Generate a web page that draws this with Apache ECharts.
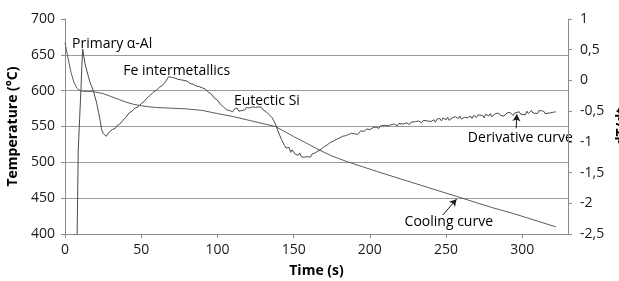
<!DOCTYPE html>
<html>
<head>
<meta charset="utf-8">
<script src="https://cdn.jsdelivr.net/npm/echarts@6/dist/echarts.min.js"></script>
<style>
  html, body { margin: 0; padding: 0; background: #fff; }
  #chart { width: 619px; height: 281px; }
</style>
</head>
<body>
<div id="chart"></div>
<script>
// cooling curve: [time s, temperature °C]
var coolingCurve = [
    [0, 667], [2, 645], [4, 625], [6, 611], [8, 603], [10, 600], [12, 599], [15, 599],
    [18, 599], [20, 598], [25, 596], [30, 592], [35, 588], [40, 584], [45, 581], [50, 579],
    [55, 577.5], [60, 576.5], [70, 575.5], [80, 574.5], [90, 572.5], [100, 568], [110, 564],
    [120, 559], [130, 554], [138, 550], [145, 542], [150, 536], [160, 525], [167, 517],
    [175, 509], [185, 501], [195, 494], [205, 487], [220, 477], [235, 467], [250, 457],
    [257, 452.5], [265, 447], [280, 437], [295, 428], [310, 418], [322, 410]
];

// derivative curve: [time s, dT/dt]
var derivativeCurve = [
    [7.9, -2.6], [8.7, -1.13], [9.6, -0.62], [10.5, -0.12], [11.1, 0.25], [11.6, 0.51],
    [12.3, 0.40], [13.1, 0.28], [14.2, 0.17], [15.3, 0.07], [16.4, -0.03], [17.4, -0.09],
    [18.6, -0.17], [19.7, -0.27], [20.8, -0.37], [22, -0.52], [23, -0.64], [24, -0.80],
    [25, -0.86],
    [26, -0.85], [27, -0.91], [28, -0.88], [29, -0.84], [30, -0.86], [31, -0.80], [32, -0.83],
    [33, -0.78], [34, -0.74], [35, -0.77], [36, -0.71], [37, -0.73], [38, -0.65], [39, -0.66],
    [40, -0.60], [41, -0.62], [42, -0.53], [43, -0.55], [44, -0.50], [45, -0.51], [46, -0.45],
    [47, -0.48], [48, -0.43], [49, -0.44], [50, -0.38], [51, -0.40], [52, -0.34], [53, -0.35],
    [54, -0.28], [55, -0.30], [56, -0.24], [57, -0.26], [58, -0.19], [59, -0.21], [60, -0.16],
    [61, -0.18], [62, -0.11], [63, -0.13], [64, -0.08], [65, -0.09], [66, -0.02], [67, 0.01],
    [68, 0.06], [69, 0.04], [70, 0.05], [71, 0.02], [72, 0.04], [73, 0.01], [74, 0.02],
    [75, -0.01], [76, 0.01], [77, -0.02], [78, 0.00], [79, -0.03], [80, -0.01], [81, -0.04],
    [82, -0.05], [83, -0.03], [84, -0.06], [85, -0.05], [86, -0.09], [87, -0.07], [88, -0.10],
    [90, -0.12], [92, -0.14], [94, -0.19], [96, -0.22], [98, -0.29], [100, -0.32], [102, -0.39],
    [104, -0.43], [106, -0.48], [107, -0.46], [108, -0.49], [109, -0.47], [110, -0.51],
    [111, -0.47], [112, -0.48], [113, -0.45], [114, -0.50], [115, -0.47], [116, -0.49],
    [117, -0.46], [118, -0.48], [119, -0.44], [120, -0.47], [121, -0.45], [122, -0.48],
    [123, -0.43], [124, -0.46], [125, -0.44], [126, -0.47], [127, -0.43], [128, -0.45],
    [129, -0.44], [130, -0.48], [132, -0.51], [134, -0.56], [136, -0.61], [138, -0.71],
    [140, -0.84], [142, -0.96], [144, -1.06], [145, -1.10], [146, -1.12], [147, -1.09],
    [148, -1.17], [149, -1.13], [150, -1.16], [151, -1.20], [152, -1.17], [153, -1.22],
    [154, -1.18], [155, -1.24], [156, -1.21], [157, -1.25], [158, -1.22], [159, -1.24],
    [160, -1.21], [161, -1.25], [162, -1.20], [163, -1.22], [164, -1.18], [165, -1.20],
    [166, -1.15], [167, -1.16], [168, -1.12], [169, -1.13], [170, -1.08], [171, -1.10],
    [172, -1.05], [173, -1.07], [174, -1.01], [175, -1.04], [176, -0.99], [177, -1.01],
    [178, -0.96], [179, -0.98], [180, -0.94], [181, -0.96], [182, -0.91], [183, -0.94],
    [184, -0.90], [186, -0.88], [187, -0.91], [188, -0.86], [190, -0.87], [191, -0.84],
    [192, -0.88], [194, -0.82], [195, -0.85], [196, -0.83], [198, -0.79], [199, -0.82],
    [200, -0.80], [202, -0.77], [203, -0.80], [204, -0.76], [206, -0.78], [207, -0.74],
    [208, -0.77], [210, -0.73], [211, -0.76], [212, -0.74], [214, -0.72], [215, -0.75],
    [216, -0.71], [218, -0.74], [219, -0.70], [220, -0.73], [222, -0.71], [223, -0.74],
    [224, -0.69], [226, -0.72], [227, -0.68], [228, -0.71], [230, -0.67], [231, -0.70],
    [232, -0.66], [234, -0.69], [235, -0.65], [236, -0.68], [238, -0.66], [239, -0.63],
    [240, -0.67], [242, -0.64], [243, -0.68], [244, -0.63], [246, -0.62], [247, -0.66],
    [248, -0.61], [250, -0.64], [251, -0.60], [252, -0.65], [254, -0.61], [255, -0.63],
    [256, -0.59], [258, -0.62], [259, -0.58], [260, -0.63], [262, -0.60], [263, -0.57],
    [264, -0.61], [266, -0.58], [267, -0.62], [268, -0.57], [270, -0.60], [271, -0.56],
    [272, -0.59], [274, -0.57], [275, -0.61], [276, -0.55], [278, -0.58], [279, -0.54],
    [280, -0.59], [282, -0.55], [283, -0.58], [284, -0.53], [286, -0.57], [287, -0.54],
    [288, -0.58], [290, -0.53], [291, -0.56], [292, -0.52], [294, -0.57], [295, -0.53],
    [296, -0.56], [298, -0.51], [299, -0.55], [300, -0.52], [302, -0.56], [303, -0.50],
    [304, -0.54], [306, -0.49], [307, -0.53], [308, -0.50], [310, -0.54], [311, -0.49],
    [312, -0.52], [314, -0.50], [315, -0.54], [316, -0.51], [318, -0.53], [319, -0.50],
    [320, -0.52], [322, -0.51]
];

// axis ranges
var timeRange = [0, 330, 50];
var tempRange = [400, 700, 50];
var rateRange = [-2.5, 1, 0.5];

// text labels, placed in [time, temperature] coordinates
var notes = [
    { text: 'Primary α-Al', at: [4.6, 665.7] },
    { text: 'Fe intermetallics', at: [38.2, 627.8] },
    { text: 'Eutectic Si', at: [110.8, 586.1] },
    { text: 'Derivative curve', at: [264.3, 533.3] },
    { text: 'Cooling curve', at: [222.8, 417] }
];
// arrows: from -> to
var coolArrow = [[247.8, 426.4], [256.9, 448.6]];
var derivArrow = [[296, -0.78], [296.4, -0.55]];

var FONT = '"Open Sans", "Noto Sans", sans-serif';
var AXIS_GREY = '#8a8a8a';

var chart = echarts.init(document.getElementById('chart'));

var arrowMark = function (pair) {
    return {
        silent: true,
        animation: false,
        symbol: ['none', 'arrow'],
        symbolSize: [6, 7],
        label: { show: false },
        lineStyle: { color: '#1a1a1a', width: 1, type: 'solid' },
        emphasis: { disabled: true },
        data: [[{ coord: pair[0] }, { coord: pair[1] }]]
    };
};

chart.setOption({
    animation: false,
    grid: { left: 65, right: 51, top: 19, bottom: 47, containLabel: false, outerBoundsMode: 'none' },
    xAxis: {
        type: 'value',
        min: timeRange[0], max: timeRange[1], interval: timeRange[2],
        name: 'Time (s)',
        nameLocation: 'middle',
        nameGap: 30,
        nameTextStyle: { fontFamily: FONT, fontSize: 14, fontWeight: 'bold', color: '#000' },
        axisLine: { onZero: false, lineStyle: { color: AXIS_GREY } },
        axisTick: { show: true, length: 4, lineStyle: { color: AXIS_GREY } },
        axisLabel: { fontFamily: FONT, fontSize: 14, color: '#1a1a1a', margin: 9, showMaxLabel: false },
        splitLine: { show: false }
    },
    yAxis: [{
        type: 'value',
        position: 'left',
        min: tempRange[0], max: tempRange[1], interval: tempRange[2],
        name: 'Temperature (°C)',
        nameLocation: 'middle',
        nameGap: 40,
        nameTextStyle: { fontFamily: FONT, fontSize: 14, fontWeight: 'bold', color: '#000' },
        axisLine: { show: true, onZero: false, lineStyle: { color: AXIS_GREY } },
        axisTick: { show: true, length: 4, lineStyle: { color: AXIS_GREY } },
        axisLabel: { fontFamily: FONT, fontSize: 14, color: '#1a1a1a', margin: 10 },
        splitLine: { show: true, showMaxLine: false, lineStyle: { color: '#9a9a9a', width: 1 } }
    }, {
        type: 'value',
        position: 'right',
        min: rateRange[0], max: rateRange[1], interval: rateRange[2],
        name: 'dT/dt',
        nameLocation: 'middle',
        nameGap: 44,
        nameTextStyle: { fontFamily: FONT, fontSize: 14, fontWeight: 'bold', color: '#000' },
        axisLine: { show: true, onZero: false, lineStyle: { color: AXIS_GREY } },
        axisTick: { show: true, length: 4, lineStyle: { color: AXIS_GREY } },
        axisLabel: {
            fontFamily: FONT, fontSize: 14, color: '#1a1a1a', margin: 12,
            formatter: function (v) { return String(v).replace('.', ','); }
        },
        splitLine: { show: false }
    }],
    series: [{
        name: 'Cooling curve',
        type: 'line',
        yAxisIndex: 0,
        data: coolingCurve,
        showSymbol: false,
        lineStyle: { color: '#5c5c5c', width: 1 },
        markLine: arrowMark(coolArrow)
    }, {
        name: 'Derivative curve',
        type: 'line',
        yAxisIndex: 1,
        data: derivativeCurve,
        showSymbol: false,
        clip: true,
        lineStyle: { color: '#4a4a4a', width: 1 },
        markLine: arrowMark(derivArrow)
    }]
});

// text labels go on after the axes exist, so data coords can be turned into pixels
var graphics = notes.map(function (n) {
    var p = chart.convertToPixel({ xAxisIndex: 0, yAxisIndex: 0 }, n.at);
    return {
        type: 'text',
        x: p[0],
        y: p[1],
        silent: true,
        style: {
            text: n.text,
            fill: '#000',
            font: '14px ' + FONT,
            verticalAlign: 'middle',
            align: 'left'
        }
    };
});
chart.setOption({ graphic: graphics });
</script>
</body>
</html>
